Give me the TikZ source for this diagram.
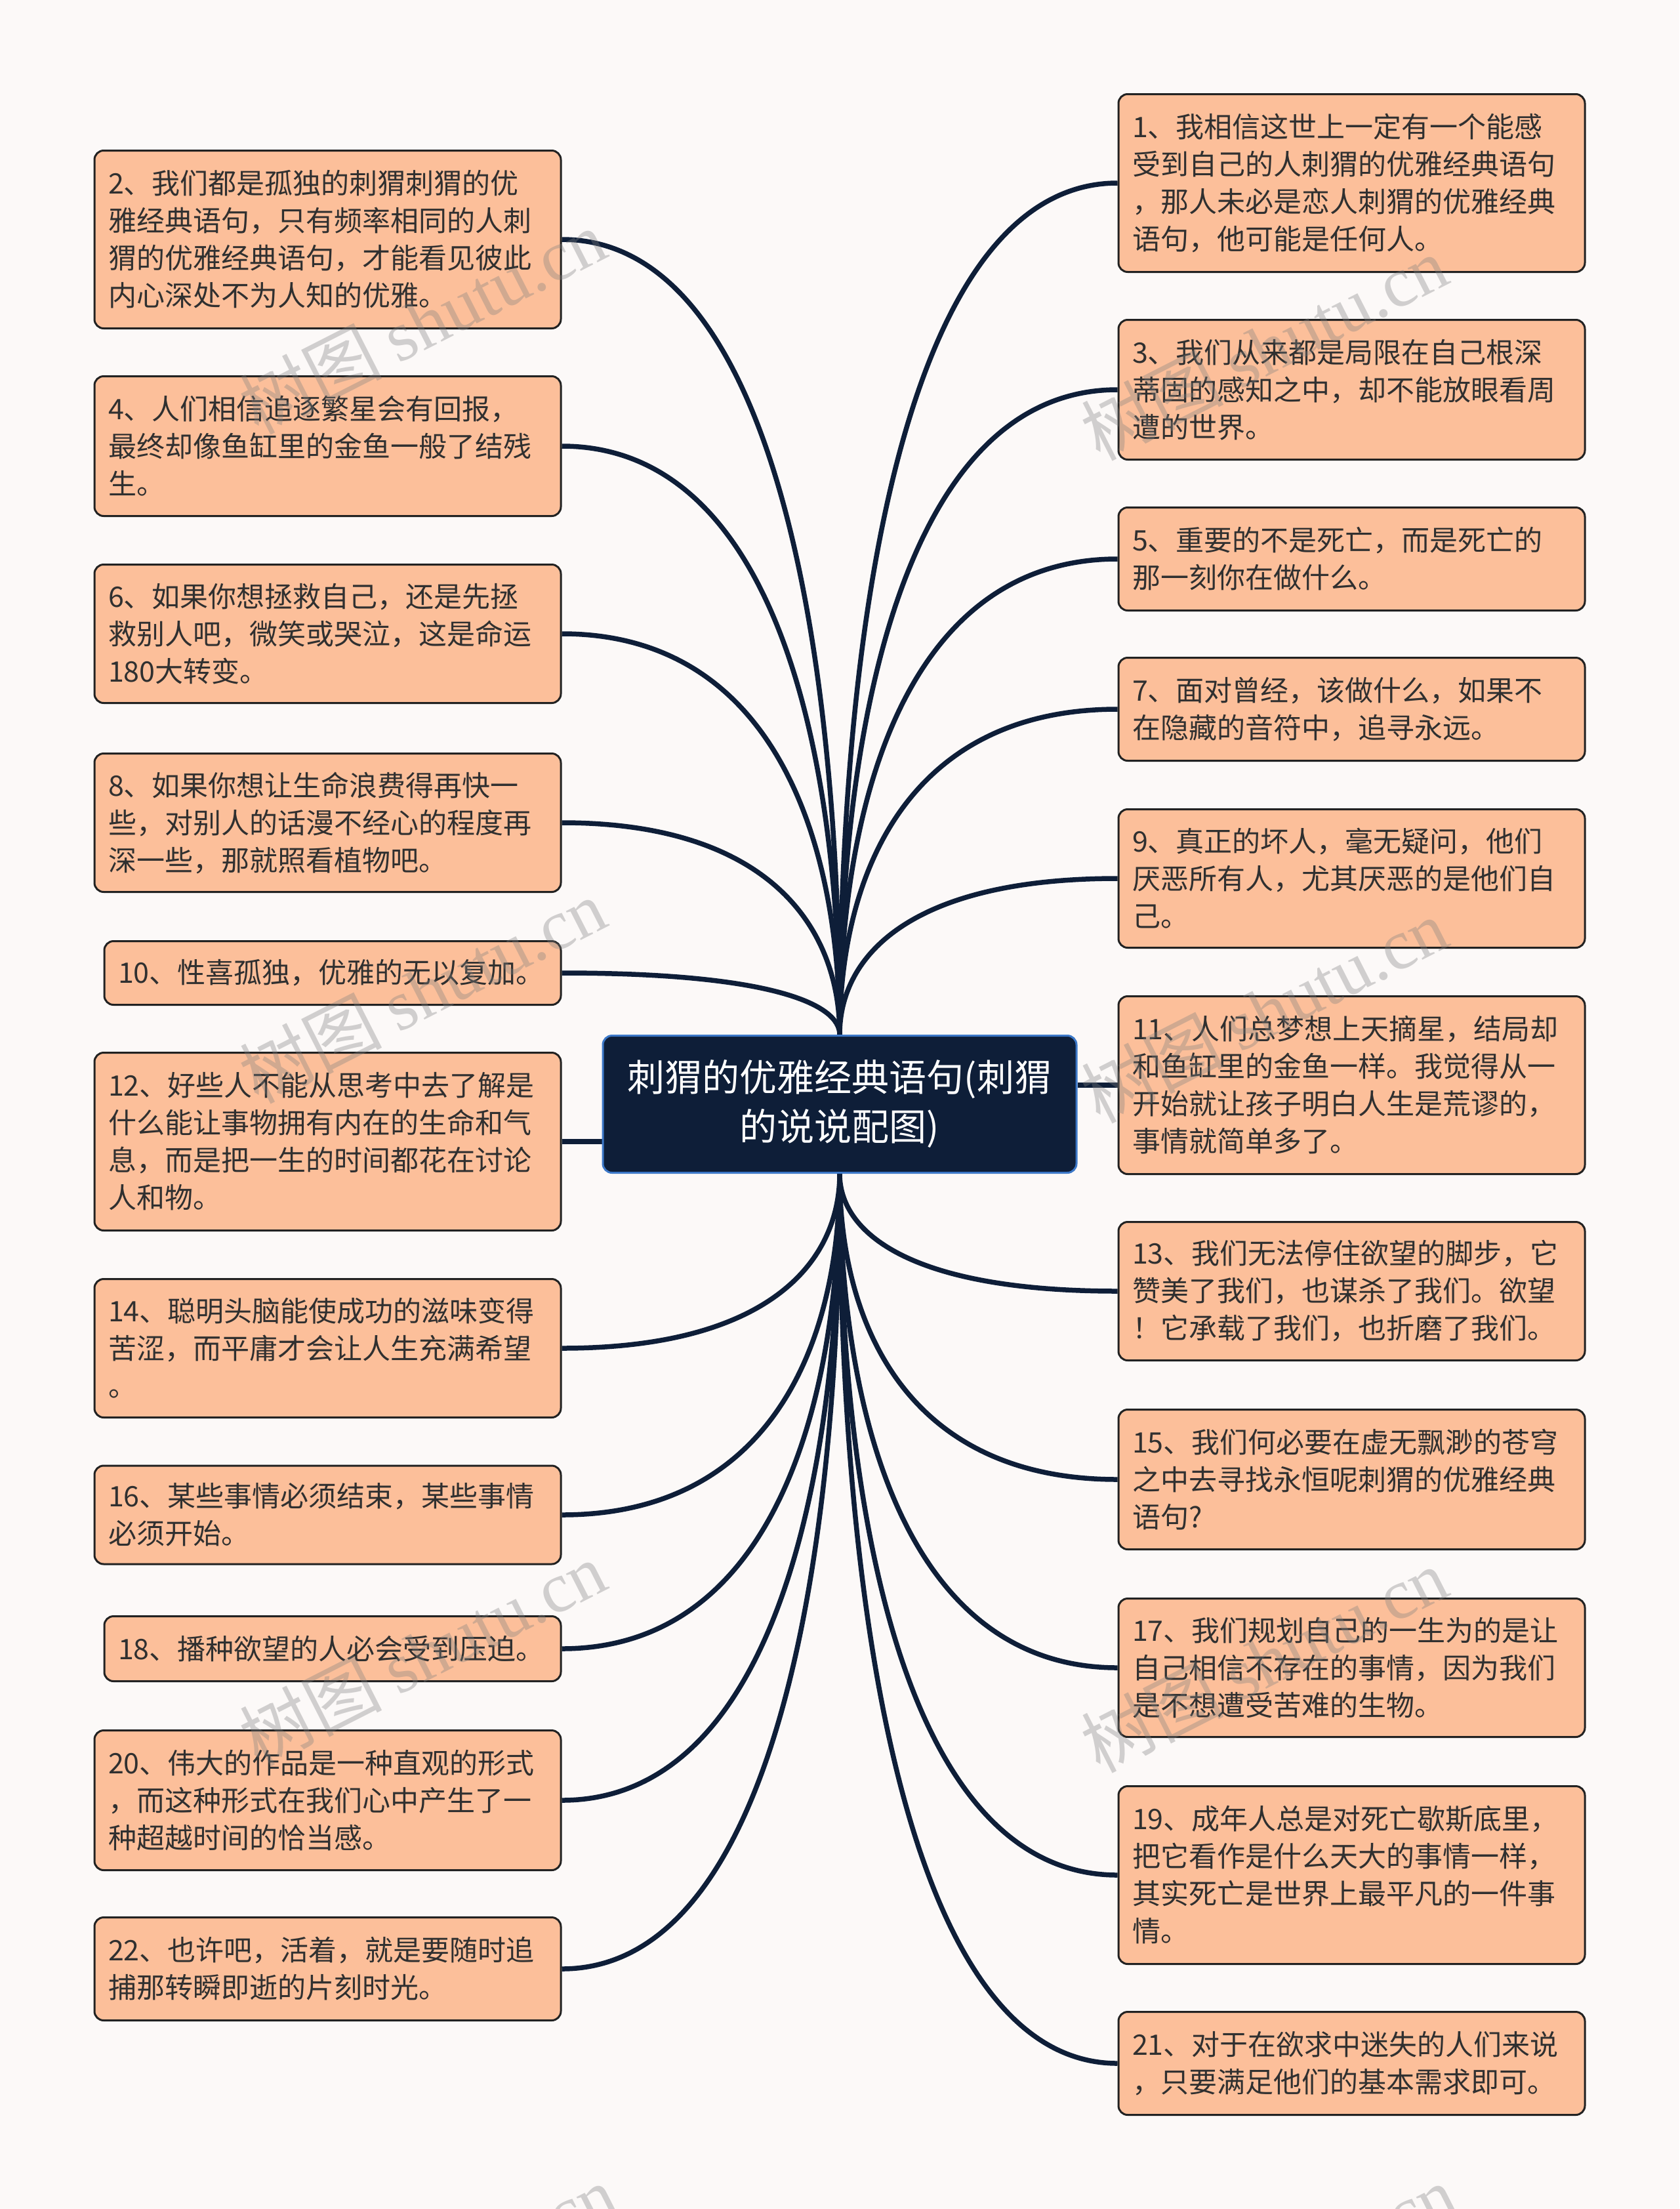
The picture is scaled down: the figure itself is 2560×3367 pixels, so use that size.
\documentclass[tikz,border=0pt]{standalone}
\usepackage{fontspec}
\setmainfont{Noto Sans CJK SC}
\newfontfamily\wmlatin{Liberation Serif}
\usetikzlibrary{calc,backgrounds}
\definecolor{bgc}{HTML}{FCF9F8}
\definecolor{leaf}{HTML}{FCBF9A}
\definecolor{leafdraw}{HTML}{222222}
\definecolor{navy}{HTML}{0E1E38}
\definecolor{rootborder}{HTML}{3C78C8}
\definecolor{txt}{HTML}{303030}
\newcommand\tietop[2]{\draw[link] (#1) .. controls ($(#1)!0.75!(#2 |- #1)$) and ($(#2)!0.5!(#2 |- #1)$) .. (#2);}
\begin{document}
\begin{tikzpicture}[x=1pt,y=-1pt,
  leafbox/.style={draw=leafdraw, line width=3pt, fill=leaf, rounded corners=14pt, text=txt,
    font=\fontsize{43pt}{57pt}\selectfont, align=left, text width=669pt, inner xsep=21pt, inner ysep=0pt,
    minimum height=#1},
  rootbox/.style={draw=rootborder, line width=3pt, fill=navy, rounded corners=14pt, text=white,
    font=\fontsize{57pt}{75pt}\selectfont, align=center, minimum width=722pt, minimum height=209pt, inner sep=0pt},
  link/.style={draw=navy, line width=7.5pt},
  wm/.style={text=gray, opacity=0.35, font=\fontsize{108pt}{108pt}\selectfont, rotate=27, inner sep=0pt}]
\useasboundingbox (0,0) rectangle (2560,3367);
% root
\node[rootbox] (c) at (1280,1683) {刺猬的优雅经典语句(刺猬\\的说说配图)};
% left column
\node[leafbox=271pt] (n2) at (499.5,365) {2、我们都是孤独的刺猬刺猬的优\\雅经典语句，只有频率相同的人刺\\猬的优雅经典语句，才能看见彼此\\内心深处不为人知的优雅。};
\node[leafbox=213pt] (n4) at (499.5,680) {4、人们相信追逐繁星会有回报，\\最终却像鱼缸里的金鱼一般了结残\\生。};
\node[leafbox=211pt] (n6) at (499.5,966) {6、如果你想拯救自己，还是先拯\\救别人吧，微笑或哭泣，这是命运\\180大转变。};
\node[leafbox=211pt] (n8) at (499.5,1254) {8、如果你想让生命浪费得再快一\\些，对别人的话漫不经心的程度再\\深一些，那就照看植物吧。};
\node[leafbox=97pt, text width=654pt] (n10) at (507,1483) {10、性喜孤独，优雅的无以复加。};
\node[leafbox=271pt] (n12) at (499.5,1740) {12、好些人不能从思考中去了解是\\什么能让事物拥有内在的生命和气\\息，而是把一生的时间都花在讨论\\人和物。};
\node[leafbox=211pt] (n14) at (499.5,2055) {14、聪明头脑能使成功的滋味变得\\苦涩，而平庸才会让人生充满希望\\。};
\node[leafbox=150pt] (n16) at (499.5,2309) {16、某些事情必须结束，某些事情\\必须开始。};
\node[leafbox=99pt, text width=654pt] (n18) at (507,2513) {18、播种欲望的人必会受到压迫。};
\node[leafbox=213pt] (n20) at (499.5,2744) {20、伟大的作品是一种直观的形式\\，而这种形式在我们心中产生了一\\种超越时间的恰当感。};
\node[leafbox=157pt] (n22) at (499.5,3001) {22、也许吧，活着，就是要随时追\\捕那转瞬即逝的片刻时光。};
% right column
\node[leafbox=271pt] (n1) at (2060.5,279) {1、我相信这世上一定有一个能感\\受到自己的人刺猬的优雅经典语句\\，那人未必是恋人刺猬的优雅经典\\语句，他可能是任何人。};
\node[leafbox=213pt] (n3) at (2060.5,594) {3、我们从来都是局限在自己根深\\蒂固的感知之中，却不能放眼看周\\遭的世界。};
\node[leafbox=157pt] (n5) at (2060.5,852) {5、重要的不是死亡，而是死亡的\\那一刻你在做什么。};
\node[leafbox=157pt] (n7) at (2060.5,1081) {7、面对曾经，该做什么，如果不\\在隐藏的音符中，追寻永远。};
\node[leafbox=211pt] (n9) at (2060.5,1339) {9、真正的坏人，毫无疑问，他们\\厌恶所有人，尤其厌恶的是他们自\\己。};
\node[leafbox=271pt] (n11) at (2060.5,1654) {11、人们总梦想上天摘星，结局却\\和鱼缸里的金鱼一样。我觉得从一\\开始就让孩子明白人生是荒谬的，\\事情就简单多了。};
\node[leafbox=211pt] (n13) at (2060.5,1968) {13、我们无法停住欲望的脚步，它\\赞美了我们，也谋杀了我们。欲望\\！它承载了我们，也折磨了我们。};
\node[leafbox=213pt] (n15) at (2060.5,2255) {15、我们何必要在虚无飘渺的苍穹\\之中去寻找永恒呢刺猬的优雅经典\\语句?};
\node[leafbox=211pt] (n17) at (2060.5,2542) {17、我们规划自己的一生为的是让\\自己相信不存在的事情，因为我们\\是不想遭受苦难的生物。};
\node[leafbox=271pt] (n19) at (2060.5,2858) {19、成年人总是对死亡歇斯底里，\\把它看作是什么天大的事情一样，\\其实死亡是世界上最平凡的一件事\\情。};
\node[leafbox=157pt] (n21) at (2060.5,3145) {21、对于在欲求中迷失的人们来说\\，只要满足他们的基本需求即可。};
% connectors
\begin{pgfonlayer}{background}
\fill[bgc] (0,0) rectangle (2560,3367);
\coordinate (ct) at (c.north);
\coordinate (cb) at (c.south);
\foreach \n in {n2,n4,n6,n8,n10}{\tietop{\n.east}{ct}}
\foreach \n in {n14,n16,n18,n20,n22}{\tietop{\n.east}{cb}}
\foreach \n in {n1,n3,n5,n7,n9}{\tietop{\n.west}{ct}}
\foreach \n in {n13,n15,n17,n19,n21}{\tietop{\n.west}{cb}}
\draw[link] (n12.east) -- (n12.east -| c.west);
\draw[link] (n11.west) -- (n11.west -| c.east);
\end{pgfonlayer}
% watermarks
\node[wm] (w1) at (644,490) {树图 {\wmlatin shutu.cn}};
\node[wm] (w2) at (644,1510) {树图 {\wmlatin shutu.cn}};
\node[wm] (w3) at (644,2520) {树图 {\wmlatin shutu.cn}};
\node[wm] (w4) at (660,3470) {树图 {\wmlatin shutu.cn}};
\node[wm] (w5) at (1927,530) {树图 {\wmlatin shutu.cn}};
\node[wm] (w6) at (1927,1540) {树图 {\wmlatin shutu.cn}};
\node[wm] (w7) at (1927,2530) {树图 {\wmlatin shutu.cn}};
\node[wm] (w8) at (1940,3470) {树图 {\wmlatin shutu.cn}};
\end{tikzpicture}
\end{document}
